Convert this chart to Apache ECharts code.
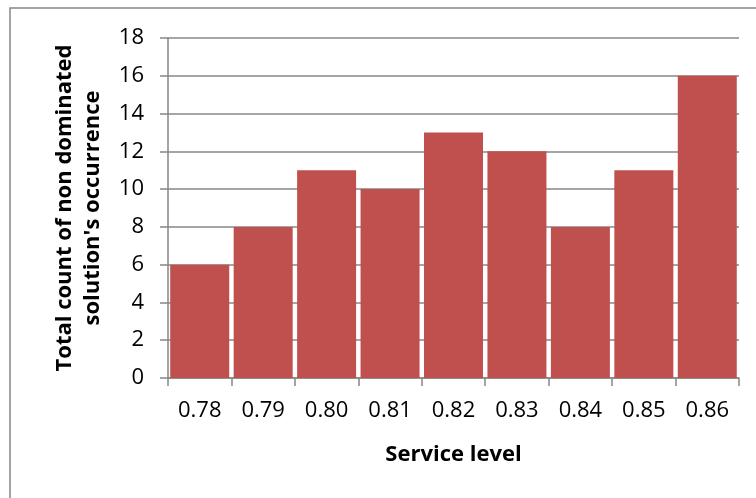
<!DOCTYPE html>
<html>
<head>
<meta charset="utf-8">
<script src="https://cdn.jsdelivr.net/npm/echarts@6/dist/echarts.min.js"></script>
<style>
  html, body { margin: 0; padding: 0; background: #fff; }
  #chart { width: 756px; height: 498px; }
</style>
</head>
<body>
<div id="chart"></div>
<script>
// Service level categories and counts of non-dominated solutions
const serviceLevels = ['0.78', '0.79', '0.80', '0.81', '0.82', '0.83', '0.84', '0.85', '0.86'];
const occurrenceCounts = [6, 8, 11, 10, 13, 12, 8, 11, 16];
const yTicks = { min: 0, max: 18, interval: 2 };

const FONT = '"Open Sans", "Liberation Sans", sans-serif';
const GRID_GRAY = '#878787';

const chart = echarts.init(document.getElementById('chart'), null, { renderer: 'canvas' });
chart.setOption({
  animation: false,
  backgroundColor: '#ffffff',
  graphic: [{
    type: 'rect',
    shape: { x: 10, y: 8, width: 900, height: 700 },
    style: { fill: 'none', stroke: GRID_GRAY, lineWidth: 1.5 },
    silent: true
  }],
  grid: { left: 168, right: 17, top: 38, bottom: 120, containLabel: false },
  xAxis: {
    type: 'category',
    data: serviceLevels,
    name: 'Service level',
    nameLocation: 'middle',
    nameGap: 66,
    nameMoveOverlap: false,
    nameTextStyle: { fontFamily: FONT, fontSize: 22, fontWeight: 'bold', color: '#000' },
    axisLine: { lineStyle: { color: GRID_GRAY, width: 1.5 } },
    axisTick: { show: true, length: 8, lineStyle: { color: GRID_GRAY, width: 1.5 } },
    axisLabel: { fontFamily: FONT, fontSize: 22, color: '#000', margin: 22 }
  },
  yAxis: {
    type: 'value',
    min: yTicks.min,
    max: yTicks.max,
    interval: yTicks.interval,
    name: 'Total count of non dominated\nsolution\'s occurrence',
    nameLocation: 'middle',
    nameRotate: 90,
    nameGap: 61,
    nameMoveOverlap: false,
    nameTextStyle: { fontFamily: FONT, fontSize: 22, fontWeight: 'bold', color: '#000', lineHeight: 28, align: 'center' },
    axisLine: { show: true, lineStyle: { color: GRID_GRAY, width: 1.5 } },
    axisTick: { show: true, length: 8, lineStyle: { color: GRID_GRAY, width: 1.5 } },
    axisLabel: { fontFamily: FONT, fontSize: 22, color: '#000', margin: 24 },
    splitLine: { show: true, lineStyle: { color: GRID_GRAY, width: 1.5 } }
  },
  series: [{
    type: 'bar',
    data: occurrenceCounts,
    barCategoryGap: '7%',
    itemStyle: { color: '#C0504D' }
  }]
});
</script>
</body>
</html>
